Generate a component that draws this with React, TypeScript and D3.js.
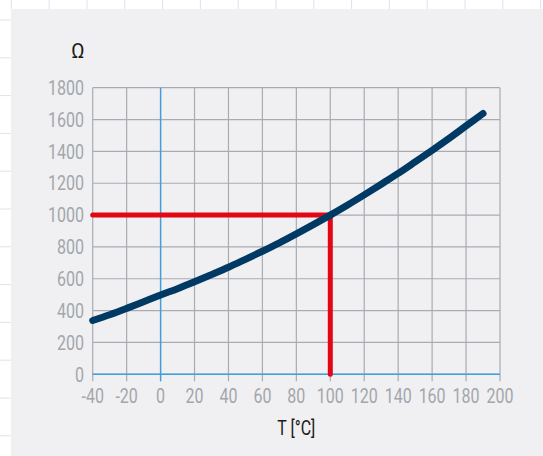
import React from "react";
import * as d3 from "d3";

const temps = [-40, -30, -20, -10, 0, 10, 20, 30, 40, 50, 60, 70, 80, 90, 100, 110, 120, 130, 140, 150, 160, 170, 180, 190];
const ohms = [338, 374, 414, 456, 498, 538, 581, 626, 672, 722, 773, 826, 882, 940, 1000, 1062, 1127, 1194, 1262, 1334, 1407, 1482, 1560, 1638];
const xTicks = [-40, -20, 0, 20, 40, 60, 80, 100, 120, 140, 160, 180, 200];
const yTicks = [0, 200, 400, 600, 800, 1000, 1200, 1400, 1600, 1800];
const markT = 100;
const markR = 1000;
const yTitle = "Ω";
const xTitle = "T [°C]";

const W = 543;
const H = 456;

export default function App() {
  const x = d3.scaleLinear().domain([-40, 200]).range([92.7, 500]);
  const y = d3.scaleLinear().domain([0, 1800]).range([374.3, 87.7]);
  const pts: [number, number][] = temps.map((t, i) => [t, ohms[i]]);
  const line = d3
    .line<[number, number]>()
    .x((d) => x(d[0]))
    .y((d) => y(d[1]))
    .curve(d3.curveCatmullRom);
  const redPath = d3.line<[number, number]>().x((d) => x(d[0])).y((d) => y(d[1]))([
    [-40, markR],
    [markT, markR],
    [markT, 0],
  ]);
  const gray = "#a9abb1";
  const blue = "#3aa0de";
  const tickColor = "#a3a6ab";
  const bgLinesX = d3.range(0, 15).map((k) => 11.4 + k * 37.8);
  const bgLinesY = d3.range(0, 12).map((k) => 20 + k * 37.8);
  const sx = 0.8;
  const fs = 20;

  return (
    <div style={{ position: "fixed", left: 0, top: 0 }}>
      <svg width={W} height={H} style={{ display: "block" }}>
        <rect x={0} y={0} width={W} height={H} fill="#ffffff" />
        {bgLinesX.map((v, i) => (
          <line key={"bx" + i} x1={v} x2={v} y1={0} y2={9} stroke="#e2e2e4" strokeWidth={1} />
        ))}
        {bgLinesY.map((v, i) => (
          <line key={"by" + i} x1={0} x2={11} y1={v} y2={v} stroke="#e2e2e4" strokeWidth={1} />
        ))}
        <rect x={11} y={9} width={W - 11} height={H - 9} fill="#f0f0f2" />

        {xTicks.map((t) => (
          <line key={"gx" + t} x1={x(t)} x2={x(t)} y1={y(1800)} y2={y(0) + 7} stroke={gray} strokeWidth={1.2} />
        ))}
        {yTicks.map((v) => (
          <line key={"gy" + v} x1={x(-40)} x2={x(200)} y1={y(v)} y2={y(v)} stroke={gray} strokeWidth={1.2} />
        ))}
        <line x1={x(0)} x2={x(0)} y1={y(1800)} y2={y(0) + 7} stroke={blue} strokeWidth={1.4} />
        <line x1={x(-40)} x2={x(200)} y1={y(0)} y2={y(0)} stroke={blue} strokeWidth={1.4} />

        <path d={redPath || ""} fill="none" stroke="#e30613" strokeWidth={5} strokeLinecap="round" strokeLinejoin="miter" />
        <path d={line(pts) || ""} fill="none" stroke="#003a64" strokeWidth={7} strokeLinecap="round" />

        {yTicks.map((v) => (
          <text
            key={"ty" + v}
            transform={`translate(84,${y(v)}) scale(${sx},1)`}
            textAnchor="end"
            dy="0.36em"
            fontFamily="Roboto"
            fontSize={fs}
            fill={tickColor}
          >
            {v}
          </text>
        ))}
        {xTicks.map((t) => (
          <text
            key={"tx" + t}
            transform={`translate(${x(t)},403) scale(${sx},1)`}
            textAnchor="middle"
            fontFamily="Roboto"
            fontSize={fs}
            fill={tickColor}
          >
            {t}
          </text>
        ))}
        <text transform={`translate(78,58)`} textAnchor="middle" fontFamily="Roboto" fontSize={20} fill="#1a1a1a">
          {yTitle}
        </text>
        <text
          transform={`translate(${(x(-40) + x(200)) / 2},435) scale(${sx},1)`}
          textAnchor="middle"
          fontFamily="Roboto"
          fontSize={fs}
          fill="#1a1a1a"
        >
          {xTitle}
        </text>
      </svg>
    </div>
  );
}
